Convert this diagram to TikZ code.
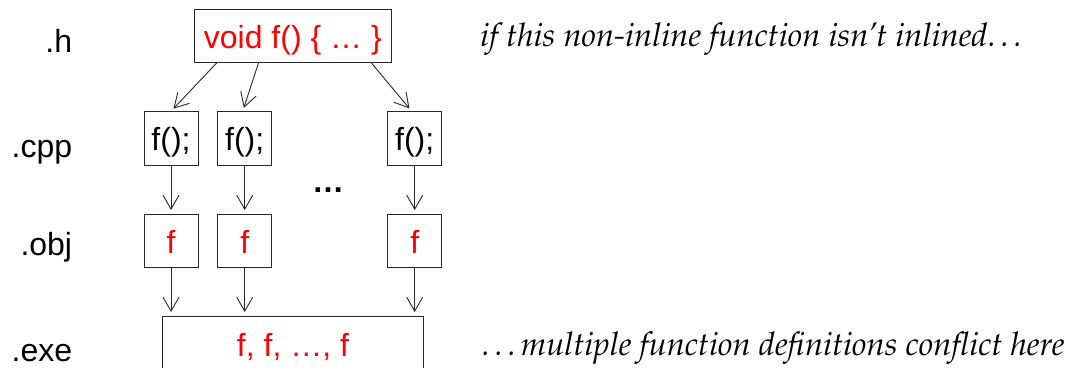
\documentclass[tikz,border=0pt]{standalone}
\usepackage[T1]{fontenc}
\usepackage{fontspec}
\setmainfont{Liberation Sans}
\usetikzlibrary{arrows.meta,calc}
\newcommand\palit{\fontencoding{T1}\fontfamily{ppl}\fontseries{m}\fontshape{it}\selectfont}
\definecolor{linec}{RGB}{40,40,40}
\tikzset{
  box/.style={draw=linec, line width=0.9pt, inner sep=0pt, text height=25pt, text depth=0pt, font=\fontsize{32}{38}\selectfont},
  smallbox/.style={box, minimum width=54pt, minimum height=53.3pt},
  lbl/.style={anchor=base east, inner sep=0pt, font=\fontsize{32}{38}\selectfont},
  note/.style={anchor=base west, inner sep=0pt, font=\fontsize{32.6}{38}\palit},
  arr/.style={draw=linec, line width=0.9pt, -{Straight Barb[length=14pt,width=16pt]}, shorten >=3.5pt}
}
\begin{document}
\begin{tikzpicture}[x=1pt,y=-1pt]
\useasboundingbox (0,0) rectangle (1075,367);
% labels
\node[lbl] (lh) at (72.3,52) {.h};
\node[lbl] (lcpp) at (72.3,157) {.cpp};
\node[lbl] (lobj) at (72.3,255) {.obj};
\node[lbl] (lexe) at (72.3,361) {.exe};
% header box
\node[box, minimum width=197.7pt, minimum height=53pt, text=red] (h) at (292.85,35.8) {void f() \{ … \}};
% cpp boxes
\node[smallbox] (c1) at (171,138.3) {f();};
\node[smallbox] (c2) at (244.7,138.3) {f();};
\node[smallbox] (c3) at (414.7,138.3) {f();};
% obj boxes
\node[smallbox, text=red] (o1) at (171,240.7) {f};
\node[smallbox, text=red] (o2) at (244.7,240.7) {f};
\node[smallbox, text=red] (o3) at (414.7,240.7) {f};
% exe box
\node[box, minimum width=260.6pt, minimum height=55pt, text=red] (e) at (293,343.5) {f, f, …, f};
% dots
\node[inner sep=0pt, font=\fontsize{32}{38}\selectfont\bfseries] (dots) at (328,190) {…};
% notes
\node[note] (n1) at (480,46.7) {if this non-inline function isn't inlined\ldots};
\node[note] (n2) at (481.7,355) {\ldots multiple function definitions conflict here};
% arrows
\draw[arr] ($(h.south west)+(23.3,0)$) -- (c1.north);
\draw[arr] ($(h.south west)+(65,0)$) -- ($(c2.north)+(-2,0)$);
\draw[arr] ($(h.south west)+(177.7,0)$) -- ($(c3.north)+(-3,0)$);
\draw[arr] (c1.south) -- (o1.north);
\draw[arr] (c2.south) -- (o2.north);
\draw[arr] (c3.south) -- (o3.north);
\draw[arr] (o1.south) -- (o1.south |- e.north);
\draw[arr] (o2.south) -- (o2.south |- e.north);
\draw[arr] (o3.south) -- (o3.south |- e.north);
\end{tikzpicture}
\end{document}
